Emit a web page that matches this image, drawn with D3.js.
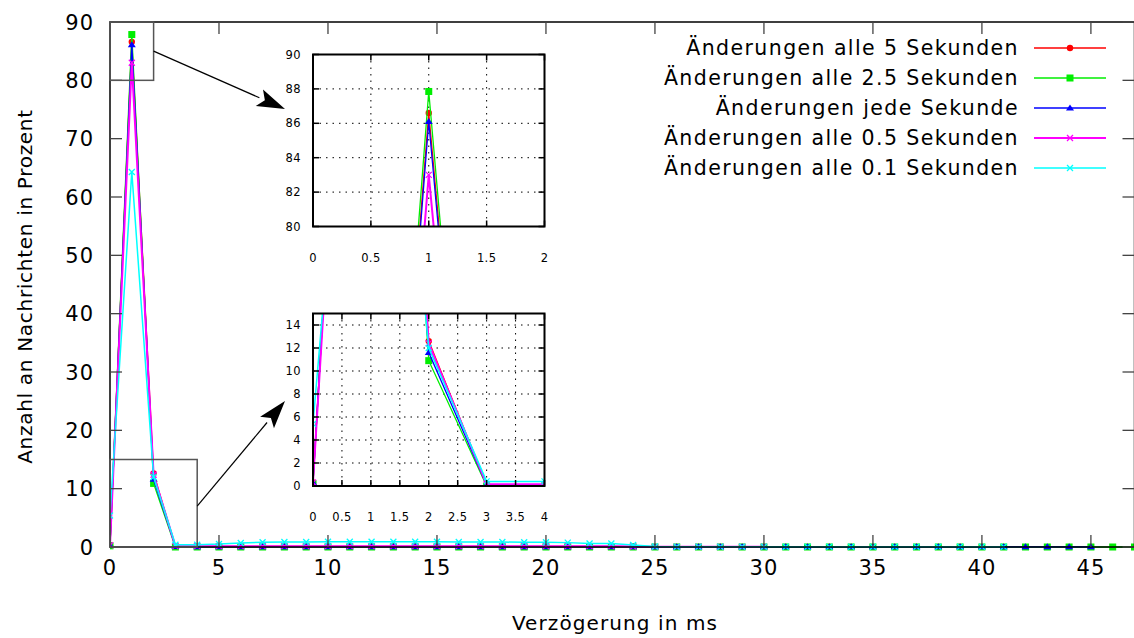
<!DOCTYPE html>
<html>
<head>
<meta charset="utf-8">
<script src="https://cdn.jsdelivr.net/npm/d3@7"></script>
<style>
  html, body { margin: 0; padding: 0; background: #fff; }
  svg { display: block; font-family: "DejaVu Sans", Verdana, sans-serif; }
</style>
</head>
<body>
<svg id="chart" width="1134" height="638"></svg>
<script>
// Verzögerung (ms) je Messpunkt
const delays = [0,1,2,3,4,5,6,7,8,9,10,11,12,13,14,15,16,17,18,19,20,21,22,23,24,25,26,27,28,29,30,31,32,33,34,35,36,37,38,39,40,41,42,43,44,45,46,47];

// Anteil der Nachrichten in Prozent pro Verzögerung
const every5s = [0.3,86.6,12.6,0.1,0.1,0.1,0.1,0.1,0.1,0.1,0.1,0.1,0.1,0.1,0.1,0.1,0.1,0.1,0.1,0.1,0.1,0.1,0.1,0.1,0.05,0.02,0.02,0.02,0.02,0.02,0.02,0.02,0.02,0.02,0.02,0.02,0.02,0.02,0.02,0.02,0.02];
const every2_5s = [0.2,87.85,10.9,0.0,0.0,0.0,0.0,0.0,0.0,0.0,0.0,0.0,0.0,0.0,0.0,0.0,0.0,0.0,0.0,0.0,0.0,0.0,0.0,0.0,0.0,0.0,0.0,0.0,0.0,0.0,0.0,0.0,0.0,0.0,0.0,0.0,0.0,0.0,0.0,0.0,0.0,0.0,0.0,0.0,0.0,0.0,0.0,0.0];
const every1s = [0.3,86.1,11.6,0.1,0.05,0.05,0.05,0.05,0.05,0.05,0.05,0.05,0.05,0.05,0.05,0.05,0.05,0.05,0.05,0.05,0.05,0.05,0.05,0.05,0.05,0.03,0.03,0.03,0.03,0.03,0.03,0.03,0.03,0.03,0.03,0.03,0.03,0.03,0.03,0.03,0.03,0.03,0.03,0.03,0.03,0.03];
const every0_5s = [0.3,83.0,12.4,0.15,0.15,0.15,0.15,0.15,0.15,0.15,0.15,0.15,0.15,0.15,0.15,0.15,0.15,0.15,0.15,0.15,0.15,0.15,0.15,0.15,0.1,0.05,0.05,0.05,0.05,0.05,0.05];
const every0_1s = [5.4,64.3,12.0,0.4,0.4,0.5,0.7,0.8,0.85,0.85,0.9,0.9,0.9,0.9,0.9,0.9,0.85,0.85,0.85,0.8,0.8,0.75,0.6,0.6,0.35,0.1,0.05,0.05,0.05,0.05,0.05,0.05,0.05,0.05,0.05,0.05,0.05,0.05,0.05,0.05,0.05,0.05];

const seriesNames = [
  "Änderungen alle 5 Sekunden",
  "Änderungen alle 2.5 Sekunden",
  "Änderungen jede Sekunde",
  "Änderungen alle 0.5 Sekunden",
  "Änderungen alle 0.1 Sekunden"
];
const seriesValues = [every5s, every2_5s, every1s, every0_5s, every0_1s];
const seriesColors = ["#ff0000", "#00ee00", "#0000ff", "#ff00ff", "#00ffff"];
const seriesMarkers = ["circle", "square", "triangle", "cross", "cross"];
const seriesWidths = [1.3, 1.3, 1.3, 2, 1.5];

const mainXTicks = [0,5,10,15,20,25,30,35,40,45];
const mainYTicks = [0,10,20,30,40,50,60,70,80,90];
const topInsetXTicks = [0,0.5,1,1.5,2];
const topInsetYTicks = [80,82,84,86,88,90];
const lowInsetXTicks = [0,0.5,1,1.5,2,2.5,3,3.5,4];
const lowInsetYTicks = [0,2,4,6,8,10,12,14];

const xTitle = "Verzögerung in ms";
const yTitle = "Anzahl an Nachrichten in Prozent";

const series = seriesNames.map((name, i) => ({
  name,
  color: seriesColors[i],
  marker: seriesMarkers[i],
  width: seriesWidths[i],
  points: seriesValues[i].map((v, j) => ({ x: delays[j], y: v }))
}));

const svg = d3.select("#chart");

// ---- marker shapes ----
function drawMarker(g, type, cx, cy, color) {
  if (type === "circle") {
    g.append("circle").attr("cx", cx).attr("cy", cy).attr("r", 3.2).attr("fill", color);
  } else if (type === "square") {
    g.append("rect").attr("x", cx - 3.5).attr("y", cy - 3.5).attr("width", 7).attr("height", 7).attr("fill", color);
  } else if (type === "triangle") {
    g.append("path").attr("d", `M${cx},${cy - 3.5}L${cx + 4},${cy + 2.5}L${cx - 4},${cy + 2.5}Z`).attr("fill", color);
  } else {
    g.append("path").attr("d", `M${cx - 3},${cy - 3}L${cx + 3},${cy + 3}M${cx - 3},${cy + 3}L${cx + 3},${cy - 3}`)
      .attr("stroke", color).attr("stroke-width", 1.3).attr("fill", "none");
  }
}

// ---- a plot panel (main chart and zoom insets) ----
function drawSeries(g, x, y, clipId) {
  const line = d3.line().x(d => x(d.x)).y(d => y(d.y));
  const layer = g.append("g").attr("clip-path", `url(#${clipId})`);
  series.forEach(s => {
    layer.append("path").datum(s.points)
      .attr("d", line)
      .attr("fill", "none")
      .attr("stroke", s.color)
      .attr("stroke-width", s.width)
      .attr("stroke-linejoin", "miter");
    const mg = layer.append("g");
    s.points.forEach(p => drawMarker(mg, s.marker, x(p.x), y(p.y), s.color));
  });
}

function addClip(id, x0, y0, w, h) {
  svg.append("clipPath").attr("id", id)
    .append("rect").attr("x", x0).attr("y", y0).attr("width", w).attr("height", h);
}

// ---------------- main chart ----------------
const M = { left: 110, top: 22, right: 1134.5, bottom: 547 };
const x = d3.scaleLinear().domain([0, 47]).range([M.left, M.right]);
const y = d3.scaleLinear().domain([0, 90]).range([M.bottom, M.top]);

addClip("clipMain", M.left, M.top - 6, M.right - M.left + 6, M.bottom - M.top + 12);

const main = svg.append("g");
drawSeries(main, x, y, "clipMain");

// frame
main.append("rect")
  .attr("x", M.left).attr("y", M.top)
  .attr("width", M.right - M.left).attr("height", M.bottom - M.top)
  .attr("fill", "none").attr("stroke", "#000").attr("stroke-width", 1.5);

// inward ticks on all sides
const tickLen = 12;
const tickG = main.append("g").attr("stroke", "#444").attr("stroke-width", 1.3);
mainXTicks.forEach(t => {
  tickG.append("line").attr("x1", x(t)).attr("x2", x(t)).attr("y1", M.bottom).attr("y2", M.bottom - tickLen);
  tickG.append("line").attr("x1", x(t)).attr("x2", x(t)).attr("y1", M.top).attr("y2", M.top + tickLen);
});
mainYTicks.forEach(t => {
  tickG.append("line").attr("x1", M.left).attr("x2", M.left + tickLen).attr("y1", y(t)).attr("y2", y(t));
  tickG.append("line").attr("x1", M.right).attr("x2", M.right - tickLen).attr("y1", y(t)).attr("y2", y(t));
});

// tick labels
main.append("g").selectAll("text").data(mainXTicks).join("text")
  .attr("x", d => x(d)).attr("y", M.bottom + 28)
  .attr("text-anchor", "middle").attr("font-size", 21).attr("letter-spacing", 1).attr("fill", "#000")
  .text(d => d);
main.append("g").selectAll("text").data(mainYTicks).join("text")
  .attr("x", M.left - 16).attr("y", d => y(d)).attr("dy", "0.36em")
  .attr("text-anchor", "end").attr("font-size", 21).attr("letter-spacing", 1).attr("fill", "#000")
  .text(d => d);

// axis titles
svg.append("text").attr("x", 615).attr("y", 630)
  .attr("text-anchor", "middle").attr("font-size", 20).attr("letter-spacing", 1.1).text(xTitle);
svg.append("text")
  .attr("transform", `translate(32,${(M.top + M.bottom) / 2 + 2}) rotate(-90)`)
  .attr("text-anchor", "middle").attr("font-size", 20).attr("letter-spacing", 0.7).text(yTitle);

// legend
const legend = svg.append("g");
series.forEach((s, i) => {
  const ly = 48 + i * 30;
  legend.append("text").attr("x", 1019).attr("y", ly).attr("dy", "0.36em")
    .attr("text-anchor", "end").attr("font-size", 20.5).attr("letter-spacing", 1.4).attr("fill", "#000").text(s.name);
  legend.append("line").attr("x1", 1034).attr("x2", 1106).attr("y1", ly).attr("y2", ly)
    .attr("stroke", s.color).attr("stroke-width", s.width);
  drawMarker(legend, s.marker, 1070, ly, s.color);
});

// ---------------- zoom regions and insets ----------------
function inset(cfg) {
  const { id, xDom, yDom, x0, x1, y0, y1, xTicks, yTicks, from, to } = cfg;
  const xs = d3.scaleLinear().domain(xDom).range([x0, x1]);
  const ys = d3.scaleLinear().domain(yDom).range([y1, y0]);

  // rectangle marking the zoomed region in the main chart
  svg.append("rect")
    .attr("x", x(xDom[0])).attr("y", y(yDom[1]))
    .attr("width", x(xDom[1]) - x(xDom[0])).attr("height", y(yDom[0]) - y(yDom[1]))
    .attr("fill", "none").attr("stroke", "#555").attr("stroke-width", 1.5);

  // arrow from the zoomed region to the inset
  const ax0 = x(from[0]), ay0 = y(from[1]);
  const [ax1, ay1] = to;
  const ang = Math.atan2(ay1 - ay0, ax1 - ax0);
  const headL = 28, headW = 9;
  const bx = ax1 - headL * Math.cos(ang), by = ay1 - headL * Math.sin(ang);
  svg.append("line").attr("x1", ax0).attr("y1", ay0).attr("x2", bx).attr("y2", by)
    .attr("stroke", "#000").attr("stroke-width", 1.2);
  svg.append("path")
    .attr("d", `M${ax1},${ay1}L${bx + headW * Math.sin(ang)},${by - headW * Math.cos(ang)}L${bx + 6 * Math.cos(ang)},${by + 6 * Math.sin(ang)}L${bx - headW * Math.sin(ang)},${by + headW * Math.cos(ang)}Z`)
    .attr("fill", "#000");

  const g = svg.append("g");
  g.append("rect").attr("x", x0).attr("y", y0).attr("width", x1 - x0).attr("height", y1 - y0).attr("fill", "#fff");

  // dotted grid
  const grid = g.append("g").attr("stroke", "#000").attr("stroke-width", 1).attr("stroke-dasharray", "1.5,5");
  xTicks.slice(1, -1).forEach(t => grid.append("line").attr("x1", xs(t)).attr("x2", xs(t)).attr("y1", y0).attr("y2", y1));
  yTicks.forEach(t => {
    if (t !== yDom[0] && t !== yDom[1]) grid.append("line").attr("x1", x0).attr("x2", x1).attr("y1", ys(t)).attr("y2", ys(t));
  });

  addClip(id, x0, y0, x1 - x0, y1 - y0);
  drawSeries(g, xs, ys, id);

  // frame and inward ticks
  g.append("rect").attr("x", x0).attr("y", y0).attr("width", x1 - x0).attr("height", y1 - y0)
    .attr("fill", "none").attr("stroke", "#000").attr("stroke-width", 2);
  const tk = g.append("g").attr("stroke", "#000").attr("stroke-width", 1.5);
  xTicks.forEach(t => {
    tk.append("line").attr("x1", xs(t)).attr("x2", xs(t)).attr("y1", y1).attr("y2", y1 - 6);
    tk.append("line").attr("x1", xs(t)).attr("x2", xs(t)).attr("y1", y0).attr("y2", y0 + 6);
  });
  yTicks.forEach(t => {
    tk.append("line").attr("x1", x0).attr("x2", x0 + 6).attr("y1", ys(t)).attr("y2", ys(t));
    tk.append("line").attr("x1", x1).attr("x2", x1 - 6).attr("y1", ys(t)).attr("y2", ys(t));
  });

  g.append("g").selectAll("text").data(xTicks).join("text")
    .attr("x", d => xs(d)).attr("y", y1 + 35)
    .attr("text-anchor", "middle").attr("font-size", 11.5).attr("letter-spacing", 0.4).attr("fill", "#000").text(d => d);
  g.append("g").selectAll("text").data(yTicks).join("text")
    .attr("x", x0 - 12).attr("y", d => ys(d)).attr("dy", "0.36em")
    .attr("text-anchor", "end").attr("font-size", 11.5).attr("letter-spacing", 0.4).attr("fill", "#000").text(d => d);
}

inset({
  id: "clipTop", xDom: [0, 2], yDom: [80, 90],
  x0: 313, x1: 544.5, y0: 54.5, y1: 226.5,
  xTicks: topInsetXTicks, yTicks: topInsetYTicks,
  from: [2, 85], to: [285, 109]
});
inset({
  id: "clipLow", xDom: [0, 4], yDom: [0, 15],
  x0: 313, x1: 544.5, y0: 313.5, y1: 486,
  xTicks: lowInsetXTicks, yTicks: lowInsetYTicks,
  from: [4, 7], to: [285, 401]
});
</script>
</body>
</html>
